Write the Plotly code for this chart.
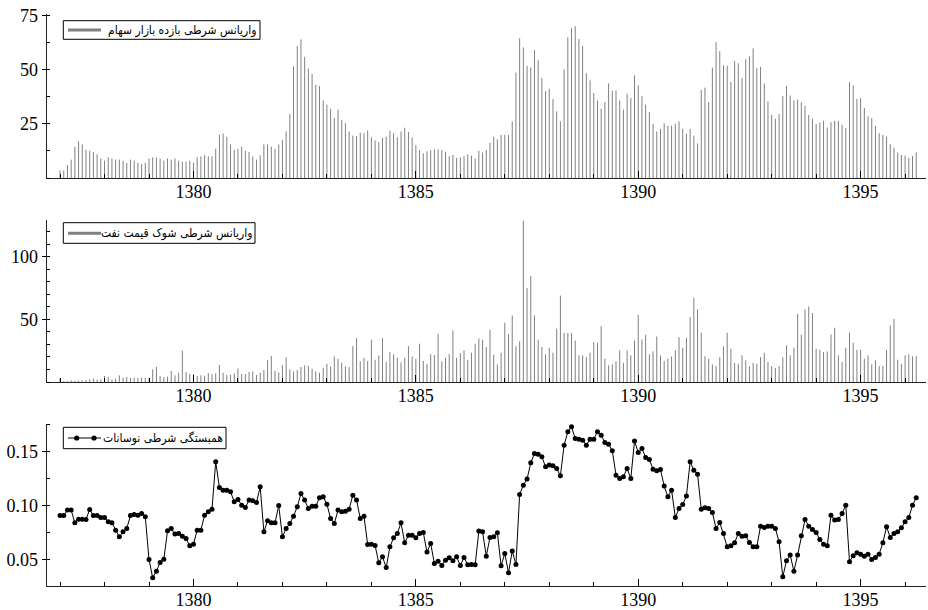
import plotly.graph_objects as go

# Monthly observations, Farvardin 1377 through Tir 1396 (Solar Hijri calendar)
START_YEAR = 1377
N_MONTHS = 232
period = [START_YEAR + i / 12 for i in range(N_MONTHS)]

# Conditional variance of stock-market returns
stock_var = [
    3.5, 3.5, 6, 8.5, 14.5, 17, 15.5, 13, 12.5, 12, 11, 9, 8, 9.5, 9, 8.5, 8.5, 8, 7, 8.5,
    8, 7, 6.5, 7, 9, 9.5, 9.5, 9, 8, 9, 8.5, 9, 8, 7.5, 7.5, 8, 7, 9.5, 10, 10.5,
    10, 10, 13.5, 20, 20.5, 19, 15.5, 13, 13.5, 14.5, 12.5, 12, 10, 8.5, 10.5, 15.5, 15.5, 14.5, 13.5, 15.5,
    17.5, 21.5, 29.5, 51.5, 61, 64, 56, 50.5, 48, 43, 42.5, 35.8, 33.9, 32, 27.7, 31.6, 26.9, 25.3, 21.5, 19.6,
    19.4, 21, 20.7, 21.9, 18.8, 17.3, 16.5, 18.5, 19.1, 21.8, 20.7, 18.8, 21.5, 23.2, 21.3, 18.7, 15.2, 12.9, 11.4, 12.4,
    12.9, 13.2, 13.2, 12.9, 12.1, 10.1, 10.6, 9.3, 9.5, 10.1, 10.9, 10.3, 9, 12.6, 11.8, 12.9, 16.3, 19.1, 17.9, 19.9,
    19.9, 19.9, 26.1, 48.7, 64.5, 60.3, 51.8, 51, 59.1, 54.4, 46.3, 40.1, 41.3, 36.5, 30.8, 26.1, 50.2, 65, 69.2, 70.1,
    64.2, 61.1, 48.4, 45.1, 39.3, 35.8, 32, 35.1, 43.7, 40.4, 40.4, 35.8, 31.6, 38.9, 37, 47.4, 42.8, 37.8, 33.9, 30.5,
    25, 21.5, 22.7, 25.3, 24.1, 24.1, 25, 26.1, 22.7, 20.4, 22.7, 19.6, 16, 40.6, 41.7, 35.1, 51, 62.7, 58.6, 52.1,
    51.8, 44.3, 54, 53, 46.3, 54.9, 56.1, 59.9, 50.7, 51.3, 43.7, 35.5, 29.2, 27.4, 29.5, 37.8, 42.5, 38.1, 35.9, 36.2,
    35, 33.4, 29.2, 27.4, 25, 25.7, 26.4, 23.3, 25.8, 26.4, 26.4, 24.6, 23, 44.3, 42.8, 36.5, 37, 32.3, 28.5, 27.7,
    24.1, 20.7, 19.9, 19.1, 15.6, 14, 11.8, 10.6, 10.3, 9.3, 10.1, 11.8,
]

# Conditional variance of oil-price shocks
oil_var = [
    3.2, 0.8, 0.8, 1.3, 0.8, 1.1, 1.3, 1.6, 2.1, 2.7, 1.9, 2.1, 4.8, 4, 2.1, 2.7, 5.3, 3.5, 4, 3.2,
    3.5, 3.2, 3.5, 3.5, 3.5, 10.1, 12.2, 4.8, 4, 4.3, 8.8, 5.3, 7.4, 25, 8, 6.4, 6.4, 4.8, 5.3, 5.1,
    7.2, 6.4, 6.9, 13.6, 7.4, 5.6, 5.9, 6.9, 10.9, 6.4, 6.4, 8, 8.5, 5.6, 7.4, 9.6, 17.6, 20.7, 9, 7.7,
    13.6, 19.7, 10.1, 8.5, 9.6, 12, 13.3, 12.8, 10.6, 8.5, 7.4, 11.2, 14.6, 12.5, 20.5, 18.6, 15.4, 12.5, 12, 28.7,
    35.1, 16.5, 19.4, 16.8, 33.8, 17.8, 21.3, 35.1, 16.2, 23.9, 22.1, 19.4, 15.7, 19.4, 28.7, 20.5, 18.4, 30.6, 16.8, 14.6,
    22.1, 21.5, 38.6, 16.5, 19.4, 22.3, 41.2, 19.4, 23.1, 25.3, 17.6, 23.4, 30.6, 34.8, 33.8, 27.9, 41.8, 21.8, 14.1, 23.4,
    47.3, 38.3, 53.2, 28.5, 32.4, 129, 75, 84.6, 53.2, 33.8, 27.9, 22.1, 27.4, 23.4, 42.6, 69.1, 39.1, 39.1, 39.1, 33.2,
    21.3, 21.3, 19.9, 23.4, 31.9, 31.4, 44.7, 18.6, 13.3, 14.1, 16.5, 25.3, 15.4, 25.3, 21.3, 33.2, 53.7, 34, 37.8, 22.1,
    24.5, 36.4, 21.3, 16.8, 18.6, 20.5, 25.3, 35.9, 27.4, 35.4, 51.9, 67.3, 58, 39.4, 20.7, 18.6, 14.1, 12.8, 19.9, 28.5,
    39.4, 26.6, 15.2, 14.6, 21.3, 17.3, 12.8, 15.4, 14.6, 19.9, 23.4, 16, 12.8, 11.2, 12.8, 19.9, 29.3, 21.3, 27.4, 54.5,
    37.8, 58, 60.4, 55.1, 26.6, 25.8, 23.9, 24.5, 38, 43.4, 21.3, 16, 27.4, 39.4, 31.4, 25.8, 25.8, 18.6, 21.3, 14.1,
    17.3, 12.8, 12.8, 25.8, 45.2, 50.5, 17.8, 14.6, 21.3, 22.1, 20.5, 20.7,
]

# Conditional correlation between the two volatilities
corr = [
    0.0907, 0.0907, 0.0957, 0.0957, 0.0839, 0.0873, 0.0873, 0.087, 0.0963, 0.0907,
    0.0907, 0.0889, 0.0889, 0.0848, 0.0839, 0.0771, 0.0709, 0.0755, 0.0786, 0.0907,
    0.0916, 0.091, 0.0926, 0.0895, 0.0498, 0.0328, 0.039, 0.047, 0.0501, 0.0765,
    0.0786, 0.0734, 0.074, 0.0715, 0.0693, 0.0625, 0.0641, 0.0771, 0.0771, 0.091,
    0.0941, 0.0966, 0.1406, 0.1167, 0.1142, 0.1142, 0.1127, 0.1034, 0.1056, 0.1003,
    0.0981, 0.105, 0.1043, 0.1028, 0.1173, 0.0755, 0.0858, 0.0839, 0.0839, 0.1,
    0.0709, 0.0786, 0.0833, 0.0901, 0.0988, 0.1111, 0.105, 0.0972, 0.0994, 0.0994,
    0.1071, 0.108, 0.1012, 0.0879, 0.0833, 0.0957, 0.0941, 0.0947, 0.0966, 0.1096,
    0.105, 0.0879, 0.0901, 0.0638, 0.0641, 0.0628, 0.0467, 0.0523, 0.0424, 0.0616,
    0.07, 0.074, 0.0839, 0.0653, 0.0724, 0.0724, 0.07, 0.074, 0.0749, 0.0567,
    0.0647, 0.0461, 0.0483, 0.0443, 0.0492, 0.0514, 0.0486, 0.0523, 0.0443, 0.0517,
    0.0449, 0.0452, 0.0449, 0.0762, 0.0755, 0.0529, 0.0703, 0.0709, 0.0746, 0.044,
    0.0554, 0.0375, 0.0576, 0.0452, 0.1102, 0.1189, 0.1245, 0.1396, 0.1483, 0.1477,
    0.1452, 0.1359, 0.1375, 0.1368, 0.1344, 0.1276, 0.156, 0.1684, 0.1731, 0.1622,
    0.1616, 0.1607, 0.156, 0.1616, 0.1616, 0.1684, 0.1653, 0.1585, 0.157, 0.1508,
    0.1282, 0.1251, 0.1266, 0.1344, 0.1251, 0.16, 0.1492, 0.1529, 0.1446, 0.1427,
    0.1337, 0.1322, 0.1334, 0.118, 0.108, 0.1142, 0.0889, 0.0972, 0.1009, 0.1087,
    0.1406, 0.1328, 0.1291, 0.0966, 0.0978, 0.0972, 0.0935, 0.0786, 0.0842, 0.074,
    0.0616, 0.0625, 0.0653, 0.074, 0.0715, 0.0718, 0.0656, 0.0616, 0.0616, 0.0808,
    0.0796, 0.0808, 0.0808, 0.0786, 0.0663, 0.0337, 0.0486, 0.0539, 0.039, 0.0539,
    0.0718, 0.087, 0.0808, 0.0777, 0.0749, 0.0684, 0.0641, 0.0625, 0.091, 0.0864,
    0.087, 0.0926, 0.1003, 0.0477, 0.0533, 0.056, 0.0548, 0.0529, 0.0548, 0.0498,
    0.0517, 0.0548, 0.0653, 0.0802, 0.0703, 0.074, 0.0755, 0.0793, 0.0848, 0.0889,
    0.1003, 0.1071,
]

label_stock = "واریانس شرطی بازده بازار سهام"
label_oil = "واریانس شرطی شوک قیمت نفت"
label_corr = "همبستگی شرطی نوسانات"

x_tickvals = [1380, 1385, 1390, 1395]
x_ticktext = ["1380", "1385", "1390", "1395"]

W, H = 928, 610
STEM_COLOR = "rgb(128,128,128)"
SERIF = "Liberation Serif, Times New Roman, serif"
LEGEND_FONT = "DejaVu Sans Condensed, DejaVu Sans, sans-serif"


def stems(xs, ys):
    """Vertical needle segments from zero up to each value."""
    sx, sy = [], []
    for x, y in zip(xs, ys):
        sx += [x, x, None]
        sy += [0, y, None]
    return sx, sy


def px(x, y):
    """Pixel position (from top-left) to paper coordinates."""
    return x / W, 1 - y / H


fig = go.Figure()

sx, sy = stems(period, stock_var)
fig.add_trace(go.Scatter(x=sx, y=sy, mode="lines", line=dict(color=STEM_COLOR, width=1),
                         name=label_stock, hoverinfo="skip", xaxis="x", yaxis="y"))

sx, sy = stems(period, oil_var)
fig.add_trace(go.Scatter(x=sx, y=sy, mode="lines", line=dict(color=STEM_COLOR, width=1),
                         name=label_oil, hoverinfo="skip", xaxis="x2", yaxis="y2"))

fig.add_trace(go.Scatter(x=period, y=corr, mode="lines+markers",
                         line=dict(color="black", width=1),
                         marker=dict(color="black", size=5),
                         name=label_corr, xaxis="x3", yaxis="y3"))

X_DOMAIN = [46.7 / W, 926 / W]
X_RANGE = [1376.70, 1396.47]


def px_domain(top, bottom):
    return [1 - bottom / H, 1 - top / H]


xaxis_common = dict(
    domain=X_DOMAIN, range=X_RANGE, automargin=False,
    tickvals=x_tickvals, ticktext=x_ticktext,
    ticks="inside", ticklen=7, tickwidth=1, tickcolor="black",
    minor=dict(dtick=1, tick0=1377, ticks="inside", ticklen=4, tickcolor="black"),
    showline=True, linecolor="#222", linewidth=1.3,
    showgrid=False, zeroline=False,
    ticklabelstandoff=-3,
    tickfont=dict(family=SERIF, size=18, color="black"),
)

yaxis_common = dict(
    automargin=False,
    ticks="outside", ticklen=4, tickwidth=1, tickcolor="black",
    showline=True, linecolor="#222", linewidth=1,
    showgrid=False, zeroline=False,
    tickfont=dict(family=SERIF, size=18, color="black"),
)

# Legend boxes: (left, top, right, bottom) in pixels, sample-line y, label text
legend_boxes = [
    (63.3, 20.7, 260, 39.3, 30, label_stock, STEM_COLOR, 3, []),
    (63.3, 222.7, 255, 243.3, 233.3, label_oil, STEM_COLOR, 3, []),
    (63.3, 427.3, 226, 448.7, 438, label_corr, "black", 1, [76.7, 94]),
]

shapes = []
annotations = []
for left, top, right, bottom, ly, text, col, lw, dots in legend_boxes:
    x0, y0 = px(left, bottom)
    x1, y1 = px(right, top)
    shapes.append(dict(type="rect", xref="paper", yref="paper", x0=x0, y0=y0, x1=x1, y1=y1,
                       line=dict(color="black", width=1), fillcolor="white", layer="above"))
    lx0, lyp = px(68, ly)
    lx1, _ = px(101, ly)
    shapes.append(dict(type="line", xref="paper", yref="paper", x0=lx0, y0=lyp, x1=lx1, y1=lyp,
                       line=dict(color=col, width=lw), layer="above"))
    for d in dots:
        cx0, cy0 = px(d - 2.6, ly + 2.6)
        cx1, cy1 = px(d + 2.6, ly - 2.6)
        shapes.append(dict(type="circle", xref="paper", yref="paper", x0=cx0, y0=cy0, x1=cx1, y1=cy1,
                           line=dict(color="black", width=0), fillcolor="black", layer="above"))
    tx, ty = px(right - 1.5, ly)
    annotations.append(dict(xref="paper", yref="paper", x=tx, y=ty, xanchor="right", yanchor="middle",
                            text=text, showarrow=False,
                            font=dict(family=LEGEND_FONT, size=12, color="black")))

fig.update_layout(
    width=W, height=H,
    margin=dict(l=0, r=0, t=0, b=0, autoexpand=False),
    paper_bgcolor="white", plot_bgcolor="white",
    showlegend=False,
    xaxis=dict(**xaxis_common, anchor="y"),
    xaxis2=dict(**xaxis_common, anchor="y2"),
    xaxis3=dict(**xaxis_common, anchor="y3"),
    yaxis=dict(**yaxis_common, anchor="x", domain=px_domain(14.3, 178), range=[0, 75.6],
               tickvals=[25, 50, 75],
               minor=dict(dtick=12.5, tick0=0, ticks="inside", ticklen=3, tickcolor="black")),
    yaxis2=dict(**yaxis_common, anchor="x2", domain=px_domain(220, 382), range=[0, 129.5],
                tickvals=[50, 100],
                minor=dict(dtick=10, tick0=0, ticks="inside", ticklen=3, tickcolor="black")),
    yaxis3=dict(**yaxis_common, anchor="x3", domain=px_domain(424, 586), range=[0.0252, 0.1757],
                tickvals=[0.05, 0.10, 0.15], tickformat=".2f",
                minor=dict(dtick=0.025, tick0=0, ticks="inside", ticklen=3, tickcolor="black")),
    shapes=shapes,
    annotations=annotations,
)

fig.write_html("out.html")
